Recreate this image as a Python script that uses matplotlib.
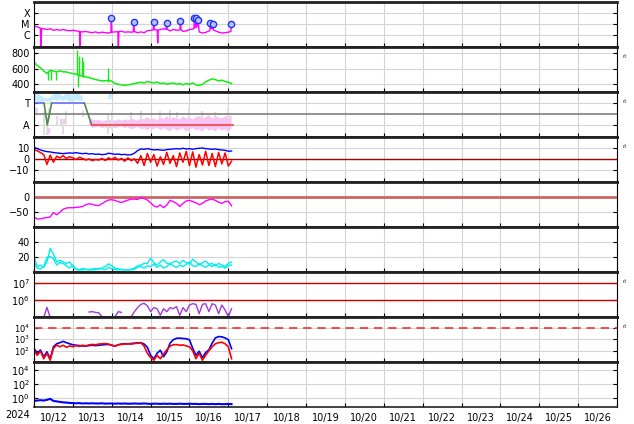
import numpy as np
import pandas as pd
import matplotlib
matplotlib.use('Agg')
import matplotlib.pyplot as plt
import matplotlib.dates as mdates
from matplotlib.ticker import NullLocator, NullFormatter

plt.rcParams['font.family'] = ['DejaVu Sans']
plt.rcParams['mathtext.fontset'] = 'dejavusans'
plt.rcParams['mathtext.default'] = 'regular'

nan = np.nan
start = pd.Timestamp('2024-10-12')
end = pd.Timestamp('2024-10-27')

# sample times (hours after 10/12 00:00) for the 2-hourly series
hours = list(range(0, 123, 2))

# X-ray flux (in C-class units, 1e-6 W/m2)
xray_h = [0, 2, 3.9, 4.3, 4.7, 6, 8, 10, 12, 14, 16, 18, 20, 22, 24, 26, 28.1, 28.4, 28.7,
          30, 32, 34, 36, 38, 40, 42, 44, 46, 47.5, 47.75, 48.1, 50, 51.8, 52.1, 52.4,
          54, 56, 58, 60, 61.3, 61.55, 61.9, 64, 66, 68, 70, 72, 73.6, 73.9, 74.3,
          76.1, 76.4, 76.7, 78, 80, 81.6, 81.9, 82.3, 84, 86, 88, 90.1, 90.4, 90.8,
          92, 94, 96, 98, 98.8, 99.0, 99.5, 100.0, 100.5, 101.3, 101.8, 102, 104, 106,
          108.6, 108.9, 109.4, 110.0, 110.3, 110.8, 112, 114, 116, 118, 120, 121.6, 121.9]
xray_c = [6.6, 5.7, 4.5, 0.05, 4.2, 3.8, 3.3, 3.8, 2.8, 3.3, 2.8, 3.3, 2.8, 2.5, 2.8, 2.5, 2.2, 0.05, 2.1,
          2.0, 2.2, 1.9, 1.7, 2.0, 1.6, 1.9, 1.7, 1.6, 1.8, 33, 1.9, 2.0, 2.1, 0.05, 2.2,
          2.3, 1.9, 2.0, 1.9, 2.0, 16, 2.2, 1.7, 2.0, 1.7, 2.5, 2.8, 3.0, 16, 3.2,
          2.9, 0.2, 3.0, 3.3, 3.8, 3.5, 11.5, 3.4, 2.5, 3.3, 2.8, 3.0, 20, 3.2,
          2.2, 2.5, 3.3, 3.6, 4.0, 33, 5, 33, 5, 26, 4, 2.0, 1.6, 1.8,
          2.6, 14, 4, 4, 10.7, 3, 2.5, 1.9, 1.6, 1.7, 1.9, 2.2, 10]
flare_h = [47.75, 61.55, 73.9, 81.9, 90.4, 99.0, 100.0, 101.3, 108.9, 110.3, 121.9]
flare_c = [33, 16, 16, 11.5, 20, 33, 33, 26, 14, 10.7, 10]

# solar wind speed (km/s)
speed = [688, 640, 612, 570, 540, 580, 570, 558, 572, 560,
         558, 546, 538, 530, 516, 503, 495, 486, 473, 460,
         452, 443, 445, 450, 440, 410, 400, 392, 387, 392,
         398, 409, 417, 426, 415, 435, 425, 418, 428, 409,
         417, 400, 410, 417, 400, 409, 392, 409, 400, 417,
         392, 383, 400, 430, 452, 469, 460, 443, 452, 435,
         426, 409]
spike_h = [8.5, 10.2, 13.8, 26.5, 27.0, 28.0, 29.4, 30.5, 46.0]
spike_lo = [450, 455, 450, 520, 366, 500, 500, 490, 430]
spike_hi = [565, 585, 560, 840, 540, 760, 750, 700, 605]

# IMF sector (T = toward, A = away)
sector_blue_h = [[0, 6.2], [10.9, 31.1]]
sector_green_h = [[6.2, 8.2, 10.9], [31.1, 35.6]]
sector_green_v = [[1, -1, 1], [1, -1]]
sector_red_h = [35.6, 123]
lightblue_hi = [1.9, 2.0, 1.7, 1.5, 1.4, 1.5, 1.8, 1.9, 1.8, 1.6, 1.9, 1.8, 1.7, 1.9, 1.8, 1.6,
                nan, nan, nan, nan, nan, nan, nan, 2.0, 1.8] + [nan] * 37
lightblue_lo = [1.2, 1.1, 1.0, 1.2, 1.1, 1.1, 1.3, 1.2, 1.3, 1.2, 1.3, 1.1, 1.2, 1.3, 1.2, 1.2,
                nan, nan, nan, nan, nan, nan, nan, 1.3, 1.4] + [nan] * 37
pink_hi = [nan, nan, nan, nan, -1.2, -1.3, nan, nan, -0.4, -0.5, -0.4, nan, nan, nan, nan, nan, nan,
           -0.4, -0.5, -0.6, -0.5, -0.7, -0.6, -0.5, -0.6, -0.6, -0.5, -0.6, -0.5, -0.6, -0.4, -0.5,
           -0.6, -0.4, -0.5, -0.3, -0.5, -0.4, -0.6, -0.3, -0.5, -0.2, -0.5, -0.3, -0.4, -0.5, -0.2,
           -0.4, -0.3, -0.5, -0.3, -0.2, -0.4, -0.3, -0.1, -0.4, -0.2, -0.3, -0.4, -0.2, -0.3, -0.1]
pink_lo = [nan, nan, nan, nan, -1.8, -1.8, nan, nan, -1.0, -0.9, -1.0, nan, nan, nan, nan, nan, nan,
           -1.0, -1.3, -1.2, -1.1, -1.3, -1.2, -1.4, -1.2, -1.3, -1.2, -1.1, -1.3, -1.2, -1.4, -1.3,
           -1.2, -1.4, -1.3, -1.5, -1.3, -1.4, -1.2, -1.5, -1.3, -1.4, -1.6, -1.3, -1.5, -1.4, -1.3,
           -1.6, -1.4, -1.3, -1.5, -1.4, -1.6, -1.3, -1.5, -1.4, -1.6, -1.3, -1.5, -1.4, -1.6, -1.3]
gray_h = [0.5, 2, 6, 8, 9, 14, 18, 20, 30, 46, 48, 60, 66, 78, 84, 88, 96, 104, 112, 120]
gray_lo = [-0.1, 0.1, -1.9, -1.9, -0.5, -1.0, -1.8, -0.8, -0.3, -1.8,
           -1.5, -0.5, -0.4, -0.5, -0.5, -0.4, -0.5, -0.4, -0.5, -0.5]
gray_hi = [0.6, 0.5, 0.2, -0.3, 0.5, -0.2, -0.5, 0.3, 0.3, 0.1,
           0.3, 0.2, 0.3, 0.3, 0.4, 0.2, 0.5, 0.3, 0.2, 0.5]

# IMF Bt and Bz (nT)
bt = [10.6, 9.4, 8.2, 7.3, 6.7, 6.4, 5.8, 5.5, 5.2, 4.8,
      5.2, 5.5, 5.2, 5.8, 5.2, 4.8, 5.2, 4.5, 4.8, 4.2,
      4.5, 3.9, 4.2, 5.2, 4.8, 4.2, 4.5, 3.9, 4.2, 3.6,
      3.9, 5.2, 7.6, 9.1, 8.8, 9.4, 8.8, 8.2, 8.5, 8.2,
      7.9, 8.5, 8.8, 9.1, 9.4, 9.1, 9.7, 9.1, 9.4, 8.8,
      9.4, 9.7, 10.0, 9.4, 9.1, 8.8, 9.1, 8.5, 8.2, 7.9,
      7.0, 7.3]
bz = [8.2, 7.5, 5.8, 4.0, -5.0, 3.5, -3.0, 2.5, 1.0, 3.0,
      0.5, 2.0, 1.0, -0.5, 1.5, 0.5, -1.0, 0.0, -1.5, -0.5,
      -1.0, 0.5, -1.5, 1.0, -0.5, 1.5, -1.0, 0.5, -2.0, 1.0,
      -1.5, 0.0, -4.0, 3.0, -6.0, 5.0, -3.0, 4.0, -6.5, 2.0,
      -5.0, 6.0, -4.0, 3.0, -7.0, 5.5, -3.0, 7.0, -6.0, 6.5,
      -7.5, 4.0, -5.5, 7.0, -6.0, 5.0, -7.0, 6.0, -4.5, 5.5,
      -6.5, -2.0]

# Dst (nT)
dst = [-66, -73, -72, -70, -68, -66, -52, -59, -51, -41,
       -37, -36, -36, -35, -34, -32, -26, -23, -25, -28,
       -29, -23, -16, -11, -10, -12, -16, -19, -15, -11,
       -8, -8, -9, -3, -6, -11, -20, -30, -34, -27,
       -36, -27, -12, -16, -22, -32, -22, -14, -12, -16,
       -20, -26, -22, -14, -10, -8, -12, -18, -22, -16,
       -15, -30]

# density (two cyan traces)
dens_a = [20.8, 8, 10, 7, 14, 31.5, 24, 14, 16, 14,
          12, 14, 8, 5, 4, 5.5, 4.5, 4, 5, 5.5,
          4.5, 6, 8, 11.5, 9, 6, 5, 4.5, 4, 3.8,
          4.5, 6, 9, 10, 12, 12, 18.7, 13, 10, 14,
          17, 12, 11, 14, 15, 12, 16, 13, 11, 17.5,
          14, 10, 13, 15, 11, 12, 9, 12, 10, 8,
          12, 14]
dens_b = [14, 6, 5, 8, 20, 21, 18, 10, 13, 12,
          9, 6, 10, 4, 3.7, 3.8, 4.2, 4, 3.7, 4,
          6, 5, 4, 7, 5, 4, 3.8, 4, 3.7, 4,
          3.8, 4.5, 7, 8, 6, 9, 8, 11, 7, 10,
          6, 8, 12, 9, 7, 10, 8, 11, 14, 9,
          8, 12, 9, 7, 10, 8, 11, 7, 8, 6,
          9, 10]

# temperature-like trace (units of 1e5)
purple = [nan, nan, nan, 0.9, 3.6, 0.9, nan, nan, nan, nan,
          nan, nan, nan, nan, nan, nan, nan, 1.9, 2.0, 1.8,
          1.7, 1.0, nan, nan, nan, 1.0, 2.0, 1.8, nan, nan,
          1.0, 2.0, 3.5, 5.5, 6.3, 4.5, 2.0, 3.5, 3.0, 1.2,
          3.0, 2.0, 3.5, 3.0, 4.0, 1.2, 3.5, 2.0, 5.0, 6.0,
          5.5, 1.5, 5.5, 6.0, 2.0, 6.0, 5.0, 1.5, 5.0, 2.5,
          1.0, 3.0]

# electron flux (blue, red)
flux_blue = [160, 60, 115, 30, 80, 20, 225, 400, 500, 650,
             500, 400, 330, 300, 280, 260, 250, 280, 300, 280,
             300, 320, 340, 350, 300, 250, 330, 380, 400, 400,
             420, 450, 480, 500, 380, 200, 40, 20, 60, 110,
             30, 80, 450, 900, 1200, 1250, 1150, 1100, 900, 160,
             40, 90, 25, 70, 120, 450, 1300, 1700, 1600, 1300,
             900, 150]
flux_red = [115, 40, 90, 20, 60, 15, 160, 310, 220, 300,
            200, 260, 220, 280, 240, 300, 260, 320, 350, 330,
            380, 400, 420, 380, 300, 250, 320, 350, 380, 400,
            380, 420, 450, 480, 250, 60, 25, 15, 40, 20,
            50, 120, 250, 330, 340, 300, 320, 260, 220, 100,
            20, 60, 15, 40, 100, 220, 400, 500, 550, 400,
            220, 20]

# proton flux
proton = [0.35, 0.4, 0.45, 0.4, 0.5, 0.7, 0.35, 0.3, 0.25, 0.22,
          0.2, 0.18, 0.17, 0.16, 0.17, 0.15, 0.16, 0.15, 0.16, 0.15,
          0.15, 0.16, 0.14, 0.15, 0.15, 0.14, 0.15, 0.14, 0.15, 0.14,
          0.14, 0.15, 0.14, 0.14, 0.15, 0.14, 0.13, 0.14, 0.14, 0.13,
          0.14, 0.13, 0.14, 0.13, 0.13, 0.14, 0.13, 0.13, 0.14, 0.13,
          0.13, 0.12, 0.13, 0.13, 0.12, 0.13, 0.12, 0.13, 0.12, 0.12,
          0.13, 0.12]


def when(h):
    return start + pd.to_timedelta(np.asarray(h, dtype=float), unit='h')


t = when(hours)

fig, axes = plt.subplots(9, 1, sharex=True, figsize=(6.34, 4.24), dpi=100)
fig.subplots_adjust(left=34 / 634, right=617 / 634, top=422 / 424, bottom=17 / 424, hspace=0)

for ax in axes:
    ax.grid(True, which='major', color='#d4d4d4', lw=0.8)
    ax.set_axisbelow(True)
    for s in ('top', 'bottom'):
        ax.spines[s].set_linewidth(2)
        ax.spines[s].set_color('#222222')
    ax.tick_params(axis='both', which='major', direction='in', length=3,
                   labelsize=7, pad=3, right=True)

# 1: X-ray
ax = axes[0]
ax.set_yscale('log')
ax.plot(when(xray_h), np.array(xray_c) * 1e-6, color='#ff00ff', lw=1)
ax.plot(when(flare_h), np.array(flare_c) * 1e-6, 'o', ms=4.5,
        mfc='#b8c4ff', mec='#2233ff', mew=1)
ax.set_ylim(10 ** -7.06, 10 ** -3.0)
ax.set_yticks([1e-4, 1e-5, 1e-6], ['X', 'M', 'C'])

# 2: wind speed
ax = axes[1]
ax.plot(t, speed, color='#11ee11', lw=1.1)
ax.vlines(when(spike_h), spike_lo, spike_hi, color='#11ee11', lw=1)
ax.set_ylim(300, 880)
ax.set_yticks([800, 600, 400])

# 3: sector
ax = axes[2]
ax.fill_between(t, lightblue_lo, lightblue_hi, color='#c2ecff', lw=0)
ax.fill_between(t, pink_lo, pink_hi, color='#f8c4f3', lw=0)
ax.vlines(when(gray_h), gray_lo, gray_hi, color='#dedede', lw=1.5)
ax.axhline(0, color='#808080', lw=1.2)
for seg in sector_blue_h:
    ax.plot(when(seg), [1] * len(seg), color='#6f6fff', lw=1.2)
for seg, vals in zip(sector_green_h, sector_green_v):
    ax.plot(when(seg), vals, color='#4f8a4f', lw=1.2)
ax.plot(when(sector_red_h), [-1, -1], color='#ee4444', lw=1.2)
ax.set_ylim(-2.1, 2)
ax.set_yticks([1, -1], ['T', 'A'])

# 4: Bt / Bz
ax = axes[3]
ax.axhline(0, color='#aa0000', lw=1)
ax.plot(t, bz, color='#ff0000', lw=1.1)
ax.plot(t, bt, color='#0000ff', lw=1)
ax.set_ylim(-21, 20)
ax.set_yticks([10, 0, -10])

# 5: Dst
ax = axes[4]
ax.axhline(0, color='#cc6666', lw=2)
ax.plot(t, dst, color='#ff00ff', lw=1)
ax.set_ylim(-99, 48)
ax.set_yticks([0, -50])

# 6: density
ax = axes[5]
ax.plot(t, dens_a, color='#00eeee', lw=1)
ax.plot(t, dens_b, color='#00eeee', lw=1)
ax.set_ylim(1, 59)
ax.set_yticks([40, 20])

# 7: purple
ax = axes[6]
ax.set_yscale('log')
ax.axhline(1e7, color='#cc0000', lw=1)
ax.axhline(1e6, color='#cc0000', lw=1)
ax.plot(t, np.array(purple) * 1e5, color='#a23ad6', lw=1)
ax.set_ylim(10 ** 4.98, 10 ** 7.68)
ax.set_yticks([1e7, 1e6])

# 8: electron flux
ax = axes[7]
ax.set_yscale('log')
ax.axhline(1e4, color='#ee3333', lw=1.2, ls=(0, (5, 3.5)))
ax.plot(t, flux_blue, color='#0000ff', lw=1.2)
ax.plot(t, flux_red, color='#ff0000', lw=1.2)
ax.set_ylim(10 ** 1.02, 10 ** 4.93)
ax.set_yticks([1e4, 1e3, 1e2])
ax.tick_params(axis='y', labelsize=6)

# 9: proton flux
ax = axes[8]
ax.set_yscale('log')
ax.plot(t, proton, color='#0000ff', lw=1.5)
ax.set_ylim(10 ** -1.33, 10 ** 5.14)
ax.set_yticks([1e4, 1e2, 1e0])

for ax in axes:
    ax.yaxis.set_minor_locator(NullLocator())

for i in (1, 2, 3, 6, 7):
    axes[i].text(1.009, 0.78, 'rt', transform=axes[i].transAxes,
                 fontsize=4, color='#333333', va='center', ha='left')

bottom = axes[-1]
bottom.set_xlim(start, end)
bottom.xaxis.set_major_locator(mdates.DayLocator())
bottom.xaxis.set_major_formatter(NullFormatter())
bottom.xaxis.set_minor_locator(mdates.HourLocator(byhour=12))
bottom.xaxis.set_minor_formatter(mdates.DateFormatter('%m/%d'))
bottom.tick_params(axis='x', which='minor', length=0, labelsize=7, pad=4)
bottom.spines['bottom'].set_linewidth(1.2)
fig.text(18 / 634, 1 - 415 / 424, '2024', ha='center', va='center', fontsize=7)

fig.savefig('out.png', dpi=100)
